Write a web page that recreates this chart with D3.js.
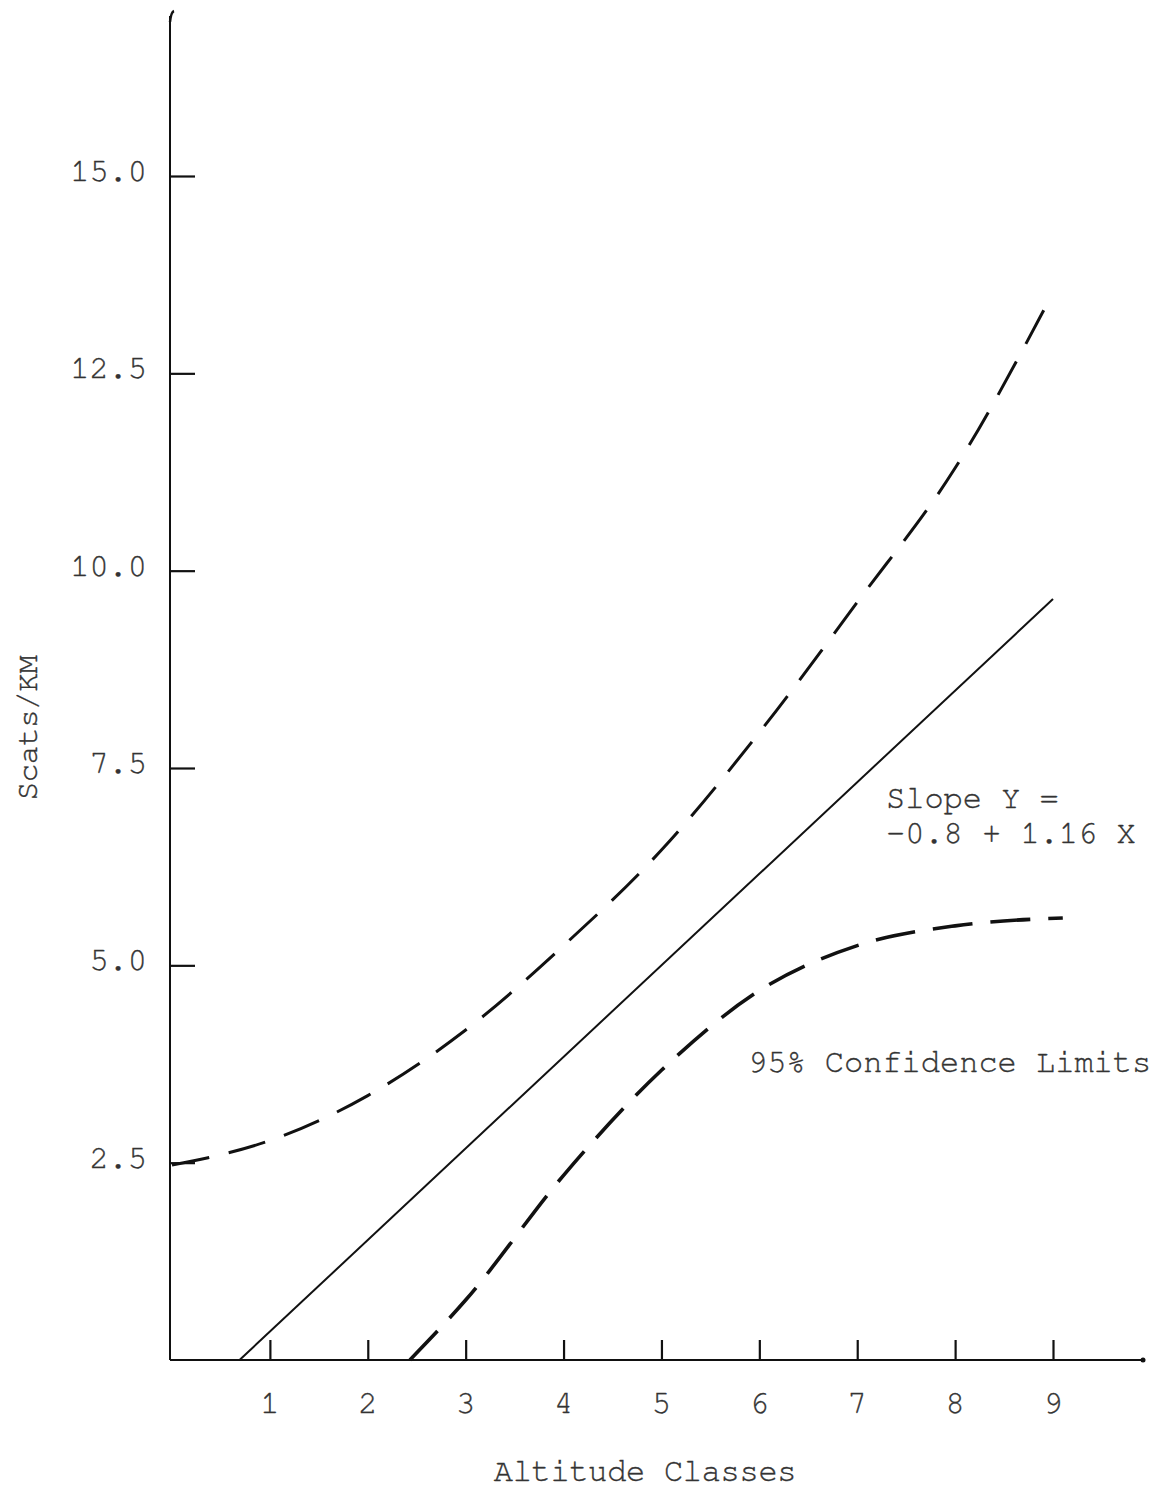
<!DOCTYPE html>
<html>
<head>
<meta charset="utf-8">
<script src="https://cdn.jsdelivr.net/npm/d3@7"></script>
<style>
  html, body { margin: 0; padding: 0; background: #fff; }
  svg text { font-family: "Nimbus Mono PS", "FreeMono", "Courier New", "Liberation Mono", monospace; fill: #333; stroke: #333; stroke-width: 0.35; }
</style>
</head>
<body>
<svg id="chart" width="1158" height="1487"></svg>
<script>
// Altitude classes shown on the x axis
const altitudeClasses = [1, 2, 3, 4, 5, 6, 7, 8, 9];
// Y axis tick values and labels
const yTickValues = [2.5, 5.0, 7.5, 10.0, 12.5, 15.0];
const yTickLabels = ["2.5", "5.0", "7.5", "10.0", "12.5", "15.0"];

// Regression line: Y = -0.8 + 1.16 X
const intercept = -0.8;
const slope = 1.16;
const regressionX = [0.69, 9.0];

// Upper 95% confidence limit
const upperX = [0, 0.5, 1, 2, 3, 4, 5, 6, 7, 8, 8.94];
const upperY = [2.47, 2.6, 2.78, 3.35, 4.18, 5.25, 6.46, 7.95, 9.6, 11.3, 13.38];

// Lower 95% confidence limit
const lowerX = [2.43, 3, 4, 5, 6, 7, 8, 9.1];
const lowerY = [0, 0.76, 2.34, 3.67, 4.68, 5.25, 5.5, 5.6];

const svg = d3.select("#chart");

const x = d3.scaleLinear().domain([0, 9]).range([172, 1053]);
const y = d3.scaleLinear().domain([0, 15]).range([1360, 176]);

const ink = "#111";
const fontSize = 32;

// Y axis: ticks point inward, labels set separately
const yAxis = d3.axisRight(y)
  .tickValues(yTickValues)
  .tickFormat("")
  .tickSize(25)
  .tickSizeOuter(0);
const gY = svg.append("g").attr("transform", `translate(${x(0) - 2},0)`).call(yAxis);
gY.select(".domain").remove();
gY.selectAll(".tick line").attr("stroke", ink).attr("stroke-width", 2.2);

svg.append("line")
  .attr("x1", x(0) - 2).attr("x2", x(0) - 2)
  .attr("y1", 16).attr("y2", y(0))
  .attr("stroke", ink).attr("stroke-width", 2);
svg.append("path")
  .attr("d", `M${x(0) - 2},22 Q${x(0) - 1},12 ${x(0) + 2},11`)
  .attr("fill", "none").attr("stroke", ink).attr("stroke-width", 2.5);

svg.append("g").selectAll("text")
  .data(yTickValues)
  .join("text")
  .attr("x", 147)
  .attr("y", d => y(d) + 5)
  .attr("text-anchor", "end")
  .attr("font-size", fontSize)
  .text((d, i) => yTickLabels[i]);

// X axis: ticks point upward
const xAxis = d3.axisTop(x)
  .tickValues(altitudeClasses)
  .tickFormat("")
  .tickSize(20)
  .tickSizeOuter(0);
const gX = svg.append("g").attr("transform", `translate(0,${y(0)})`).call(xAxis);
gX.select(".domain").remove();
gX.selectAll(".tick line").attr("stroke", ink).attr("stroke-width", 2.2);

svg.append("line")
  .attr("x1", x(0) - 2).attr("x2", 1143)
  .attr("y1", y(0)).attr("y2", y(0))
  .attr("stroke", ink).attr("stroke-width", 2.2);
svg.append("circle").attr("cx", 1143).attr("cy", y(0)).attr("r", 2.5).attr("fill", ink);

svg.append("g").selectAll("text")
  .data(altitudeClasses)
  .join("text")
  .attr("x", d => x(d))
  .attr("y", 1413)
  .attr("text-anchor", "middle")
  .attr("font-size", fontSize)
  .text(d => d);

// Axis titles
svg.append("text")
  .attr("x", 645).attr("y", 1481)
  .attr("text-anchor", "middle")
  .attr("font-size", fontSize)
  .attr("letter-spacing", -0.3)
  .text("Altitude Classes");

svg.append("text")
  .attr("transform", "translate(37,728) rotate(-90)")
  .attr("text-anchor", "middle")
  .attr("font-size", 31)
  .attr("letter-spacing", -0.5)
  .text("Scats/KM");

// Regression line
const line = d3.line().x(d => x(d[0])).y(d => y(d[1]));
svg.append("path")
  .datum(regressionX.map(v => [v, intercept + slope * v]))
  .attr("d", line)
  .attr("fill", "none")
  .attr("stroke", ink)
  .attr("stroke-width", 2);

// Confidence limits
const curve = d3.line().x(d => x(d[0])).y(d => y(d[1])).curve(d3.curveMonotoneX);
svg.append("path")
  .datum(upperX.map((v, i) => [v, upperY[i]]))
  .attr("d", curve)
  .attr("fill", "none")
  .attr("stroke", ink)
  .attr("stroke-width", 3)
  .attr("stroke-dasharray", "38 20");

svg.append("path")
  .datum(lowerX.map((v, i) => [v, lowerY[i]]))
  .attr("d", curve)
  .attr("fill", "none")
  .attr("stroke", ink)
  .attr("stroke-width", 3.6)
  .attr("stroke-dasharray", "40 18");

// Annotations
svg.append("text")
  .attr("x", 886).attr("y", 808)
  .attr("font-size", fontSize)
  .text("Slope Y =");
svg.append("text")
  .attr("x", 886).attr("y", 843)
  .attr("font-size", fontSize)
  .text("-0.8 + 1.16 X");

svg.append("text")
  .attr("x", 748).attr("y", 1072)
  .attr("font-size", fontSize)
  .text("95% Confidence Limits");
</script>
</body>
</html>
